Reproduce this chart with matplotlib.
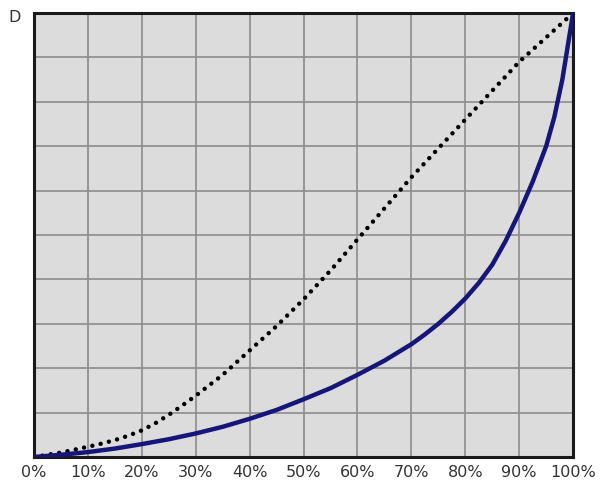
import matplotlib
matplotlib.use("Agg")
from matplotlib import pyplot as plt

# values (share of x vs share of D)
x_dots = [0, .05, .1, .125, .15, .175, .2, .225, .25, .275, .3, .35, .4, .45,
          .5, .55, .6, .65, .7, .75, .8, .85, .9, .95, 1.0]
y_dots = [0, .01, .023, .03, .038, .048, .06, .076, .095, .116, .138, .185,
          .24, .295, .355, .42, .49, .56, .63, .695, .76, .825, .89, .945, 1.0]

x_curve = [0, .05, .1, .15, .2, .25, .3, .35, .4, .45, .5, .55, .6, .65, .7,
           .725, .75, .775, .8, .825, .85, .875, .9, .925, .95, .965, .98,
           .99, 1.0]
y_curve = [0, .005, .011, .019, .029, .04, .053, .068, .086, .106, .13, .155,
           .185, .217, .254, .276, .30, .327, .357, .392, .433, .487, .55,
           .62, .70, .765, .85, .925, 1.0]

tick_pos = [i / 10 for i in range(11)]
tick_labels = [f"{i * 10}%" for i in range(11)]

fig = plt.figure(figsize=(6.02, 4.86), dpi=100)
ax = fig.add_axes([0.0565, 0.0597, 0.8955, 0.9135])
ax.set_facecolor("#dcdcdc")
ax.set_xlim(0, 1)
ax.set_ylim(0, 1)

ax.set_xticks(tick_pos)
ax.set_xticklabels(tick_labels, fontsize=11.5, color="#333333")
ax.set_yticks(tick_pos)
ax.set_yticklabels([])
ax.tick_params(length=0, pad=6)
ax.grid(True, color="#8c8c8c", linewidth=1.2)
ax.set_axisbelow(True)
for s in ax.spines.values():
    s.set_linewidth(2.2)
    s.set_color("#1a1a1a")

ax.plot(x_dots, y_dots, color="black", linewidth=3.2,
        linestyle=(0, (0.01, 1.9)), dash_capstyle="round", zorder=3)
ax.plot(x_curve, y_curve, color="#15157a", linewidth=3.2,
        solid_capstyle="round", solid_joinstyle="round", zorder=4)

fig.text(0.025, 0.965, "D", fontsize=11.5, color="#333333", ha="center", va="center")

fig.savefig("out.png", dpi=100)
plt.close()
